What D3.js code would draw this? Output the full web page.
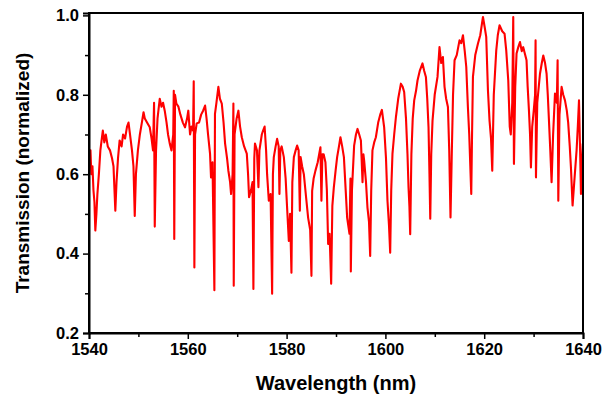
<!DOCTYPE html>
<html><head><meta charset="utf-8">
<script src="https://cdn.jsdelivr.net/npm/d3@7"></script>
<style>
html,body{margin:0;padding:0;background:#fff;}
text{font-family:"Liberation Sans",Arial,sans-serif;font-weight:bold;fill:#000;}
</style></head><body>
<svg id="chart" width="603" height="398"></svg>
<script>
const wavelength = [1540.1,1540.3,1540.47,1540.7,1540.9,1541.1,1541.28,1541.5,1541.7,1542.0,1542.3,1542.6,1542.8,1543.1,1543.4,1543.8,1544.25,1544.66,1544.96,1545.33,1545.57,1545.87,1546.2,1546.6,1546.9,1547.3,1547.7,1548.0,1548.3,1548.7,1549.0,1549.26,1549.5,1549.9,1550.3,1550.7,1551.04,1551.3,1551.75,1552.3,1552.66,1552.96,1553.17,1553.31,1553.57,1553.87,1554.32,1554.68,1554.99,1555.33,1555.7,1556.0,1556.35,1556.7,1557.05,1557.16,1557.26,1557.42,1557.68,1558.1,1558.5,1559.0,1559.44,1559.85,1560.1,1560.46,1560.76,1561.07,1561.2,1561.33,1561.47,1561.8,1562.28,1562.7,1563.1,1563.5,1563.8,1564.1,1564.5,1564.7,1565.0,1565.38,1565.5,1565.8,1566.19,1566.5,1566.88,1567.24,1567.55,1567.95,1568.2,1568.56,1568.76,1569.07,1569.23,1569.3,1569.47,1569.88,1570.24,1570.58,1570.93,1571.4,1571.94,1572.2,1572.4,1572.8,1573.1,1573.28,1573.46,1573.6,1574.0,1574.3,1574.5,1574.98,1575.24,1575.55,1575.85,1576.05,1576.4,1576.76,1577.07,1577.23,1577.41,1577.78,1578.08,1578.4,1578.55,1578.73,1579.0,1579.44,1579.8,1580.1,1580.45,1580.7,1580.98,1581.16,1581.47,1581.83,1582.13,1582.44,1582.68,1582.84,1583.14,1583.49,1583.96,1584.36,1584.77,1585.03,1585.17,1585.48,1585.84,1586.3,1586.85,1587.05,1587.24,1587.5,1587.86,1588.15,1588.41,1588.7,1589.02,1589.26,1589.56,1589.93,1590.23,1590.6,1590.9,1591.25,1591.6,1591.96,1592.26,1592.73,1592.93,1593.0,1593.23,1593.67,1594.04,1594.35,1594.7,1595.04,1595.37,1595.55,1595.7,1596.07,1596.37,1596.68,1596.92,1597.13,1597.38,1597.73,1598.07,1598.54,1598.95,1599.29,1599.75,1600.12,1600.42,1600.73,1600.97,1601.18,1601.43,1601.78,1602.13,1602.59,1603.14,1603.5,1603.8,1604.17,1604.47,1604.68,1604.86,1605.02,1605.26,1605.53,1605.83,1606.2,1606.5,1606.95,1607.51,1607.86,1608.2,1608.47,1608.73,1608.92,1609.08,1609.28,1609.54,1609.98,1610.55,1610.95,1611.3,1611.64,1611.97,1612.3,1612.66,1612.92,1613.18,1613.42,1613.69,1614.0,1614.44,1615.0,1615.35,1615.7,1616.06,1616.37,1616.7,1616.97,1617.38,1617.54,1617.72,1618.19,1618.74,1619.2,1619.75,1620.1,1620.41,1620.76,1621.08,1621.38,1621.63,1621.94,1622.44,1622.75,1623.1,1623.65,1624.12,1624.46,1624.87,1625.17,1625.38,1625.68,1625.88,1626.02,1626.28,1626.55,1626.9,1627.24,1627.6,1627.9,1628.3,1628.57,1628.8,1629.06,1629.28,1629.46,1629.72,1630.03,1630.3,1630.4,1630.48,1630.74,1631.29,1631.66,1631.96,1632.32,1632.63,1632.87,1633.11,1633.38,1633.64,1633.95,1634.33,1634.7,1634.86,1635.0,1635.24,1635.67,1636.0,1636.35,1636.72,1637.0,1637.32,1637.56,1637.89,1638.23,1638.7,1638.95,1639.19,1639.41,1639.59,1639.75,1639.95];
const transmission = [0.64,0.66,0.60,0.62,0.56,0.53,0.458,0.50,0.55,0.60,0.66,0.69,0.71,0.68,0.70,0.67,0.66,0.64,0.62,0.508,0.58,0.64,0.685,0.67,0.70,0.69,0.72,0.73,0.70,0.66,0.62,0.495,0.60,0.66,0.70,0.73,0.756,0.74,0.73,0.718,0.69,0.66,0.78,0.468,0.66,0.74,0.79,0.77,0.78,0.76,0.73,0.70,0.677,0.66,0.70,0.81,0.437,0.80,0.778,0.77,0.75,0.73,0.718,0.74,0.76,0.70,0.72,0.71,0.834,0.365,0.70,0.728,0.73,0.75,0.76,0.773,0.74,0.70,0.652,0.592,0.63,0.308,0.752,0.78,0.82,0.79,0.778,0.73,0.677,0.64,0.61,0.58,0.55,0.60,0.778,0.319,0.70,0.74,0.76,0.72,0.693,0.67,0.652,0.60,0.542,0.56,0.58,0.311,0.64,0.677,0.66,0.567,0.66,0.70,0.71,0.72,0.66,0.60,0.533,0.55,0.299,0.60,0.643,0.67,0.689,0.67,0.55,0.66,0.67,0.643,0.59,0.516,0.432,0.50,0.352,0.58,0.643,0.66,0.672,0.66,0.508,0.643,0.62,0.60,0.54,0.49,0.46,0.344,0.558,0.59,0.609,0.63,0.668,0.533,0.65,0.65,0.63,0.56,0.424,0.45,0.324,0.52,0.567,0.61,0.643,0.67,0.693,0.67,0.643,0.56,0.49,0.45,0.589,0.355,0.56,0.672,0.70,0.714,0.70,0.685,0.58,0.65,0.634,0.58,0.516,0.48,0.394,0.56,0.66,0.68,0.693,0.73,0.75,0.762,0.718,0.64,0.533,0.47,0.402,0.56,0.651,0.70,0.744,0.79,0.828,0.82,0.807,0.74,0.651,0.567,0.52,0.449,0.65,0.74,0.786,0.81,0.836,0.86,0.879,0.86,0.845,0.79,0.718,0.60,0.488,0.65,0.735,0.80,0.845,0.92,0.88,0.895,0.82,0.79,0.769,0.66,0.491,0.64,0.80,0.887,0.90,0.937,0.93,0.95,0.91,0.87,0.769,0.70,0.55,0.70,0.845,0.90,0.929,0.95,0.996,0.97,0.946,0.811,0.735,0.69,0.609,0.80,0.912,0.95,0.975,0.96,0.954,0.912,0.836,0.72,0.70,0.78,0.996,0.626,0.82,0.904,0.92,0.933,0.91,0.92,0.90,0.887,0.82,0.76,0.70,0.617,0.72,0.76,0.80,0.937,0.592,0.78,0.853,0.88,0.899,0.88,0.853,0.80,0.735,0.66,0.58,0.70,0.803,0.78,0.887,0.533,0.75,0.82,0.80,0.786,0.76,0.73,0.67,0.617,0.521,0.58,0.66,0.72,0.786,0.66,0.55,0.62,0.677];
const xTicks = [1540,1560,1580,1600,1620,1640];
const xMinor = [1550,1570,1590,1610,1630];
const yTicks = [0.2,0.4,0.6,0.8,1.0];
const yMinor = [0.3,0.5,0.7,0.9];

const svg = d3.select("#chart");
const L = 89, R = 583, T = 13, B = 333;
const x = d3.scaleLinear().domain([1540,1640]).range([L,R]);
const y = d3.scaleLinear().domain([0.2,1.006]).range([B,T]);

const data = wavelength.map((w,i)=>[w,transmission[i]]);
svg.append("path").datum(data)
  .attr("fill","none").attr("stroke","#ff0000").attr("stroke-width",2.1)
  .attr("stroke-linejoin","round")
  .attr("d", d3.line().x(d=>x(d[0])).y(d=>y(d[1])));

// frame
svg.append("rect").attr("x",L).attr("y",T).attr("width",R-L).attr("height",B-T)
  .attr("fill","none").attr("stroke","#000").attr("stroke-width",2);

svg.append("g").attr("transform",`translate(0,${B})`)
  .call(d3.axisBottom(x).tickValues(xTicks).tickFormat(d3.format("d")).tickSize(6).tickPadding(4));
svg.append("g").attr("transform",`translate(0,${B})`)
  .call(d3.axisBottom(x).tickValues(xMinor).tickFormat("").tickSize(4))
  .call(g=>g.select(".domain").remove());
svg.append("g").attr("transform",`translate(${L},0)`)
  .call(d3.axisLeft(y).tickValues(yTicks).tickFormat(d3.format(".1f")).tickSize(6).tickPadding(4));
svg.append("g").attr("transform",`translate(${L},0)`)
  .call(d3.axisLeft(y).tickValues(yMinor).tickFormat("").tickSize(4))
  .call(g=>g.select(".domain").remove());
svg.selectAll(".domain").attr("stroke-width",2);
svg.selectAll(".tick line").attr("stroke-width",1.5);
svg.selectAll(".tick text").style("font-size","16.5px").style("font-family","'Liberation Sans',Arial,sans-serif").style("font-weight","bold").attr("fill","#000");

svg.append("text").attr("x",(L+R)/2).attr("y",390).attr("text-anchor","middle")
  .style("font-size","20px").text("Wavelength (nm)");
svg.append("text").attr("transform",`translate(29,${(T+B)/2}) rotate(-90)`).attr("text-anchor","middle")
  .style("font-size","19px").text("Transmission (normalized)");
</script>
</body></html>
